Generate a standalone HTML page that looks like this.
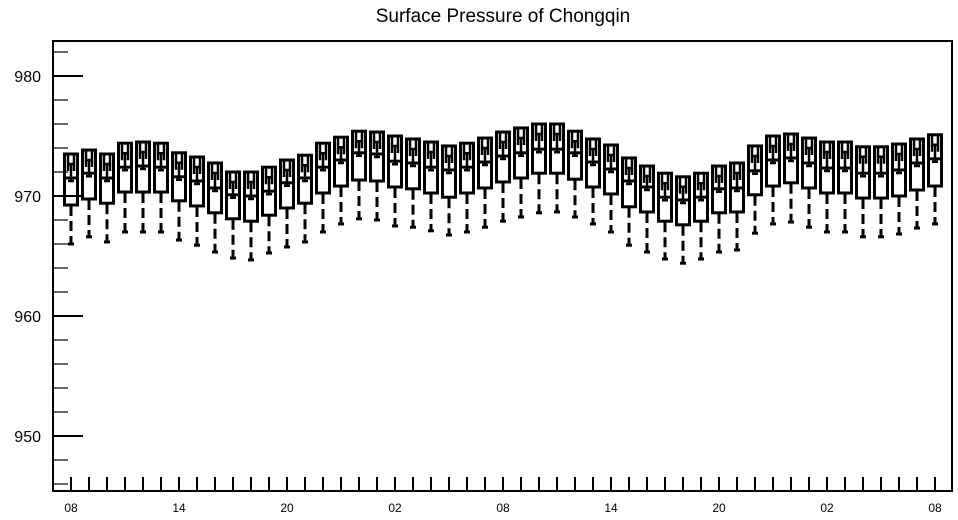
<!DOCTYPE html>
<html><head><meta charset="utf-8"><style>
html,body{margin:0;padding:0;background:#fff;}
svg{display:block;font-family:"Liberation Sans",Arial,sans-serif;}
</style></head><body>
<svg id="chart" width="958" height="520" viewBox="0 0 958 520" xmlns="http://www.w3.org/2000/svg">
<text x="503" y="22" text-anchor="middle" font-size="19" fill="#000">Surface Pressure of Chongqin</text>
<rect x="53" y="41" width="899" height="450" fill="none" stroke="#000" stroke-width="2"/>
<g id="yaxis"></g>
<g id="xaxis"></g>
<g id="boxes"></g>
</svg>
<script>
const q3Values=[973.5,973.83,973.5,974.4,974.5,974.4,973.6,973.25,972.75,972.0,972.0,972.4,973.0,973.4,974.4,974.9,975.4,975.33,975.0,974.75,974.5,974.17,974.4,974.83,975.33,975.67,976.0,976.0,975.4,974.75,974.25,973.17,972.5,971.9,971.6,971.9,972.5,972.75,974.17,975.0,975.17,974.83,974.5,974.5,974.1,974.1,974.33,974.75,975.1];
const medianValues=[971.5,971.9,971.5,972.4,972.5,972.4,971.6,971.25,970.67,970.1,970.0,970.4,971.1,971.5,972.4,973.0,973.6,973.5,972.9,972.75,972.4,972.17,972.4,972.83,973.33,973.6,973.9,973.9,973.6,972.83,972.25,971.25,970.75,969.9,969.67,969.9,970.6,970.67,972.1,973.0,973.17,972.75,972.33,972.33,971.9,971.9,972.17,972.75,973.1];
const q1Values=[969.25,969.75,969.4,970.33,970.33,970.33,969.6,969.17,968.6,968.1,967.9,968.4,969.0,969.4,970.25,970.83,971.33,971.25,970.75,970.6,970.25,969.9,970.25,970.67,971.17,971.5,971.9,971.9,971.4,970.75,970.17,969.1,968.67,967.9,967.6,967.9,968.6,968.67,970.1,970.83,971.1,970.67,970.25,970.25,969.83,969.83,970.0,970.5,970.83];
const minValues=[966.0,966.6,966.17,967.0,967.0,967.0,966.33,965.9,965.33,964.83,964.67,965.25,965.75,966.17,967.0,967.67,968.1,968.0,967.5,967.4,967.1,966.75,967.0,967.4,967.9,968.25,968.6,968.67,968.25,967.67,967.0,965.9,965.33,964.75,964.4,964.75,965.33,965.5,966.9,967.67,967.83,967.4,967.0,967.0,966.6,966.6,966.83,967.33,967.67];
const xTickLabels=["08","14","20","02","08","14","20","02","08"];
const yTickLabels=[950,960,970,980];

const NS="http://www.w3.org/2000/svg";
function yScale(v){return 76+(980-v)*12;}
function xScale(i){return 71+i*18;}
function mk(tag,attrs,parent){const e=document.createElementNS(NS,tag);for(const k in attrs)e.setAttribute(k,attrs[k]);parent.appendChild(e);return e;}

const yaxis=document.getElementById('yaxis');
for(let v=946;v<=982;v+=2){
  const major=(v%10===0);
  const t=mk('line',{x1:53,x2:major?83:68,y1:yScale(v),y2:yScale(v),stroke:'#000','stroke-width':major?2:1.2},yaxis);
  
  
}
yTickLabels.forEach(v=>{
  const t=mk('text',{x:41,y:yScale(v)+6,'text-anchor':'end','font-size':'16',fill:'#000'},yaxis);
  t.textContent=v;
  
  
});

const xaxis=document.getElementById('xaxis');
for(let i=0;i<q3Values.length;i++){
  const t=mk('line',{x1:xScale(i),x2:xScale(i),y1:477,y2:491,stroke:'#000','stroke-width':2},xaxis);
  
  
}
xTickLabels.forEach((s,k)=>{
  const t=mk('text',{x:xScale(k*6),y:512,'text-anchor':'middle','font-size':'12',fill:'#000'},xaxis);
  t.textContent=s;
  
  
});

const boxes=document.getElementById('boxes');
for(let i=0;i<q3Values.length;i++){
  const g=mk('g',{},boxes);
  
  
  const cx=xScale(i), top=yScale(q3Values[i]), bot=yScale(q1Values[i]), med=yScale(medianValues[i]), mn=yScale(minValues[i]);
  const st={stroke:'#000','stroke-width':3,fill:'none'};
  const w=mk('line',Object.assign({x1:cx,x2:cx,y1:bot+1,y2:mn,'stroke-dasharray':'10 5'},st),g);
  
  
  const c=mk('line',Object.assign({x1:cx-3,x2:cx+3,y1:mn,y2:mn},st),g);
  
  
  const r=mk('rect',Object.assign({x:cx-6.5,y:top,width:13,height:bot-top},st),g);
  
  
  const m=mk('line',Object.assign({x1:cx-6.5,x2:cx+6.5,y1:med,y2:med},st),g);
  
  
  const hb=top+10;
  const h=mk('path',{d:`M${cx-3},${top} V${hb+7} M${cx+3},${top} V${hb+7} M${cx-3},${hb} H${cx+3} M${cx},${hb} V${med+3} M${cx-3},${med+3} H${cx+3}`,stroke:'#000',fill:'none','stroke-width':2.5},g);
  
  
}
</script>
</body></html>
